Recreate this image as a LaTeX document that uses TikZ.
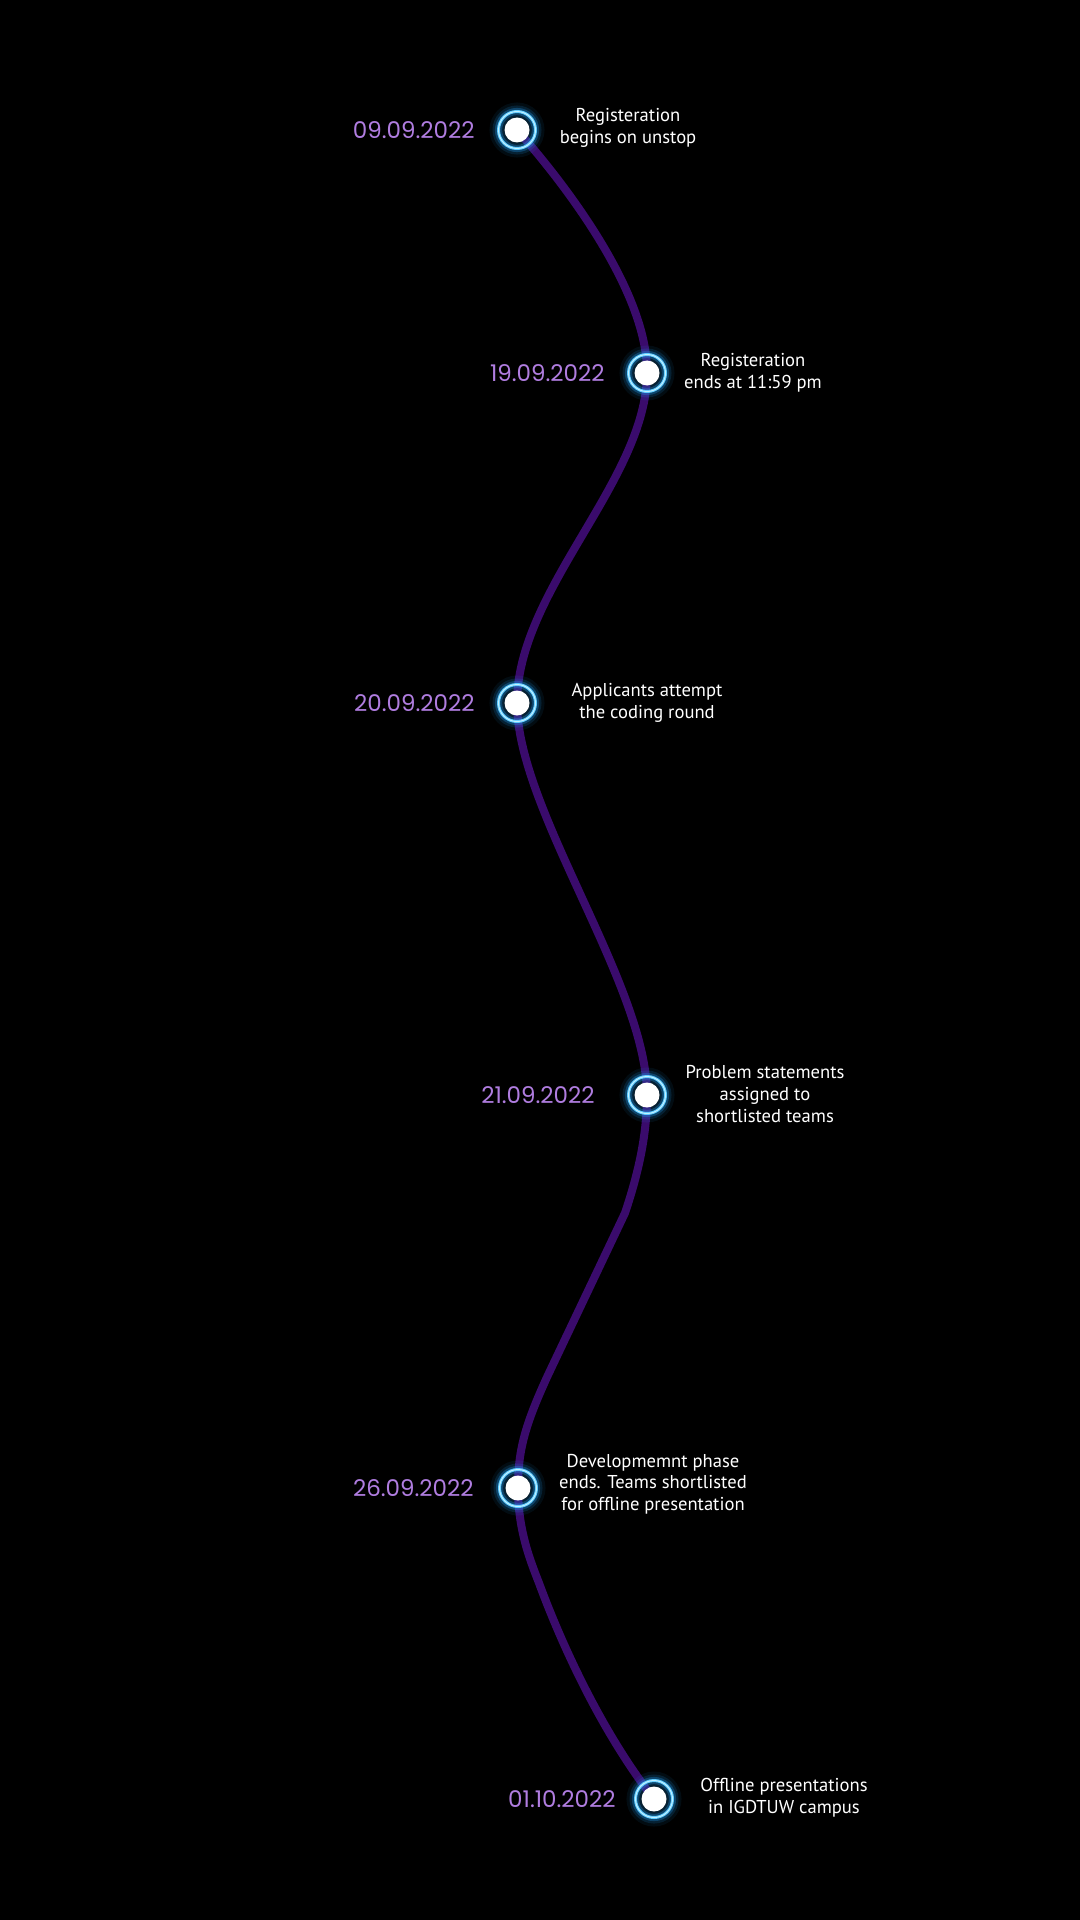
\documentclass[tikz,border=0pt]{standalone}
\usepackage{fontspec}
\setmainfont{PT Sans}
\newfontfamily\datefont{Poppins}
\definecolor{tlcol}{HTML}{3A0B6C}
\definecolor{datecol}{HTML}{B07DE0}
\definecolor{ringcol}{HTML}{5CCBFF}
\definecolor{glowcol}{HTML}{1E9BF0}
\definecolor{ringcore}{HTML}{C4F0FF}
\begin{document}
\begin{tikzpicture}[x=0.5pt,y=-0.5pt,
  tline/.style={draw=tlcol, line width=4pt, line cap=round, line join=round},
  ringnode/.style={circle, inner sep=0pt, minimum size=18.5pt, draw=ringcol, line width=1.5pt,
    preaction={draw=glowcol, draw opacity=0.08, line width=9pt},
    preaction={draw=glowcol, draw opacity=0.15, line width=6pt},
    preaction={draw=glowcol, draw opacity=0.3, line width=3.6pt},
    postaction={draw=ringcore, line width=0.5pt}},
  dotnode/.style={circle, inner sep=0pt, minimum size=12.5pt, fill=white},
  datelabel/.style={anchor=east, text=datecol, inner sep=0pt, font=\datefont\fontsize{11.5pt}{13pt}\selectfont},
  desclabel/.style={align=center, text=white, inner sep=0pt, font=\fontsize{9.3pt}{10.8pt}\selectfont}]
\fill[black] (0,0) rectangle (1080,1920);
\useasboundingbox (0,0) rectangle (1080,1920);
\coordinate (p1) at (517,130);
\coordinate (p2) at (647,373);
\coordinate (p3) at (517,703);
\coordinate (p4) at (647,1095);
\coordinate (p5) at (518,1488);
\coordinate (p6) at (654,1799);
\coordinate (k1) at (625,1213);
\coordinate (k2) at (548,1375);
\coordinate (k3) at (539,1583);
\draw[tline] (p1) .. controls (560,178) and (648,290) .. (p2)
  .. controls (647,480) and (517,590) .. (p3)
  .. controls (517,810) and (647,985) .. (p4)
  .. controls (647,1140) and (636,1180) .. (k1) -- (k2)
  .. controls (525,1425) and (518,1450) .. (p5)
  .. controls (518,1530) and (530,1560) .. (k3)
  .. controls (560,1640) and (600,1730) .. (p6);
\foreach \i in {1,...,6}{
  \node[ringnode] (r\i) at (p\i) {};
  \node[dotnode] (d\i) at (p\i) {};
}
\node[datelabel] (t1) at ([xshift=-21pt]p1) {09.09.2022};
\node[datelabel] (t2) at ([xshift=-21pt]p2) {19.09.2022};
\node[datelabel] (t3) at ([xshift=-21pt]p3) {20.09.2022};
\node[datelabel] (t4) at ([xshift=-26pt]p4) {21.09.2022};
\node[datelabel] (t5) at ([xshift=-22pt]p5) {26.09.2022};
\node[datelabel] (t6) at ([xshift=-19pt]p6) {01.10.2022};
\node[desclabel] (e1) at (628,128) {Registeration\\begins on unstop};
\node[desclabel] (e2) at (753,373) {Registeration\\ends at 11:59 pm};
\node[desclabel] (e3) at (647,703) {Applicants attempt\\the coding round};
\node[desclabel] (e4) at (765,1094) {Problem statements\\assigned to\\shortlisted teams};
\node[desclabel] (e5) at (653,1484) {Developmemnt phase\\ends. Teams shortlisted\\for offline presentation};
\node[desclabel] (e6) at (784,1798) {Offline presentations\\in IGDTUW campus};
\end{tikzpicture}
\end{document}
